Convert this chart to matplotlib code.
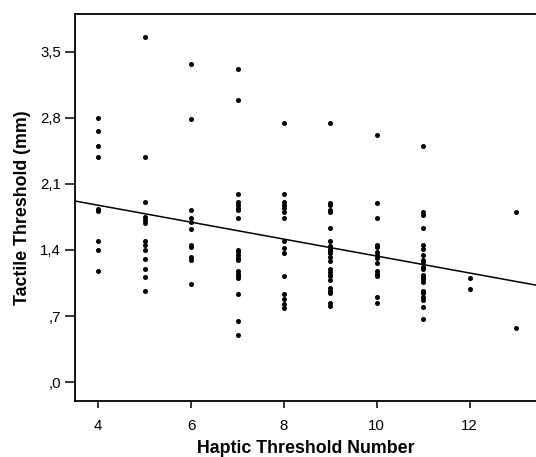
import matplotlib.pyplot as plt
import numpy as np
from matplotlib.ticker import FuncFormatter

plt.rcParams['font.family'] = ['Liberation Sans', 'DejaVu Sans']

# haptic threshold number -> tactile thresholds (mm)
haptic = {
    4: [2.80, 2.66, 2.50, 2.38, 1.83, 1.81, 1.50, 1.40, 1.18],
    5: [3.66, 2.39, 1.91, 1.75, 1.72, 1.69, 1.50, 1.45, 1.40, 1.30, 1.20, 1.11, 0.97],
    6: [3.37, 2.79, 1.82, 1.74, 1.70, 1.62, 1.45, 1.43, 1.33, 1.29, 1.04],
    7: [3.32, 2.99, 1.99, 1.91, 1.88, 1.85, 1.82, 1.74, 1.40, 1.38, 1.35, 1.32,
        1.29, 1.18, 1.15, 1.12, 1.10, 0.93, 0.65, 0.50],
    8: [2.74, 1.99, 1.91, 1.88, 1.84, 1.80, 1.74, 1.50, 1.42, 1.37, 1.12, 0.93,
        0.88, 0.83, 0.79],
    9: [2.74, 1.90, 1.88, 1.82, 1.80, 1.63, 1.50, 1.44, 1.41, 1.39, 1.37, 1.33,
        1.28, 1.20, 1.17, 1.14, 1.12, 1.08, 1.00, 0.97, 0.94, 0.84, 0.81],
    10: [2.62, 1.90, 1.74, 1.45, 1.43, 1.38, 1.35, 1.32, 1.26, 1.18, 1.15, 1.12,
         0.90, 0.84],
    11: [2.50, 1.80, 1.77, 1.63, 1.45, 1.41, 1.35, 1.29, 1.27, 1.22, 1.20, 1.14,
         1.11, 1.09, 1.06, 0.97, 0.94, 0.90, 0.87, 0.80, 0.67],
    12: [1.10, 0.99],
    13: [1.80, 0.57],
}
yticks = [0.0, 0.7, 1.4, 2.1, 2.8, 3.5]
xticks = [4, 6, 8, 10, 12]

x = np.concatenate([[k] * len(v) for k, v in haptic.items()])
y = np.concatenate([v for v in haptic.values()])

fig = plt.figure(figsize=(5.36, 4.57), dpi=100)
ax = fig.add_axes([0.140, 0.1225, 0.86, 0.8469])

ax.scatter(x, y, s=13, color='black', linewidths=0, zorder=3)

# least squares line
slope, icpt = np.polyfit(x, y, 1)
xl = np.array([3.5, 13.43])
ax.plot(xl, icpt + slope * xl, color='black', lw=1.1)

ax.set_xlim(3.5, 13.43)
ax.set_ylim(-0.2, 3.9)
ax.set_xticks(xticks)
ax.set_yticks(yticks)

def comma(v, pos):
    s = f'{v:.1f}'.replace('.', ',')
    if s.startswith('0'):
        s = s[1:]
    return s

ax.yaxis.set_major_formatter(FuncFormatter(comma))
ax.spines['right'].set_visible(False)
for sp in ax.spines.values():
    sp.set_linewidth(1.3)
ax.tick_params(axis='both', direction='out', width=1.1, labelsize=10.8, colors='black')
ax.tick_params(axis='x', length=5, pad=8)
ax.tick_params(axis='y', length=7, pad=3)

ax.set_xlabel('Haptic Threshold Number', fontsize=12.8, fontweight='bold', labelpad=5)
ax.set_ylabel('Tactile Threshold (mm)', fontsize=12.8, fontweight='bold', labelpad=7)

fig.savefig('out.png', dpi=100)
